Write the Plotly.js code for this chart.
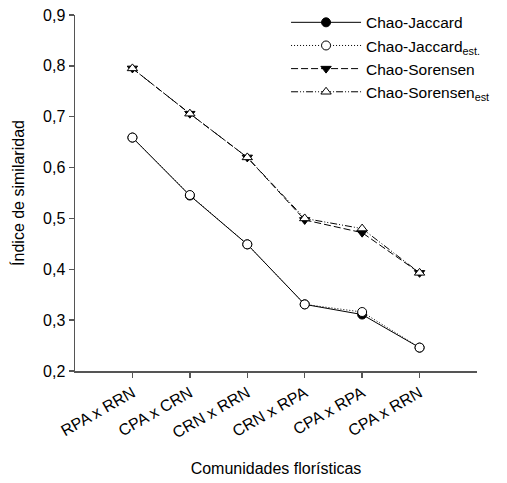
<!DOCTYPE html>
<html>
<head>
<meta charset="utf-8">
<script src="https://cdn.plot.ly/plotly-3.0.1.min.js"></script>
<style>html,body{margin:0;padding:0;background:#fff;}#chart{width:507px;height:483px;}</style>
</head>
<body>
<div id="chart"></div>
<script>
const categories = ["RPA x RRN", "CPA x CRN", "CRN x RRN", "CRN x RPA", "CPA x RPA", "CPA x RRN"];
const chaoJaccard = [0.659, 0.545, 0.449, 0.331, 0.311, 0.246];
const chaoJaccardEst = [0.659, 0.546, 0.449, 0.331, 0.316, 0.246];
const chaoSorensen = [0.795, 0.706, 0.620, 0.497, 0.472, 0.393];
const chaoSorensenEst = [0.795, 0.706, 0.620, 0.500, 0.480, 0.393];
const yTicks = [0.2, 0.3, 0.4, 0.5, 0.6, 0.7, 0.8, 0.9];
const yTickText = ["0,2", "0,3", "0,4", "0,5", "0,6", "0,7", "0,8", "0,9"];

const xIdx = categories.map((c, i) => i);
const fam = "Arial, 'Liberation Sans', sans-serif";
const font = {family: fam, size: 16, color: "#000"};

const traces = [
  {x: xIdx, y: chaoJaccard, name: "Chao-Jaccard", mode: "lines+markers",
   line: {color: "#000", width: 1, dash: "solid"},
   marker: {symbol: "circle", size: 9, color: "#000", line: {color: "#000", width: 1}}},
  {x: xIdx, y: chaoJaccardEst, name: "Chao-Jaccard<sub>est.</sub>", mode: "lines+markers",
   line: {color: "#000", width: 1, dash: "1px,2px"},
   marker: {symbol: "circle", size: 9, color: "#fff", line: {color: "#000", width: 1}}},
  {x: xIdx, y: chaoSorensen, name: "Chao-Sorensen", mode: "lines+markers",
   line: {color: "#000", width: 1, dash: "7px,3px"},
   marker: {symbol: "triangle-down", size: 9, color: "#000", line: {color: "#000", width: 1}}},
  {x: xIdx, y: chaoSorensenEst, name: "Chao-Sorensen<sub>est</sub>", mode: "lines+markers",
   line: {color: "#000", width: 1, dash: "7px,2px,1px,2px,1px,2px"},
   marker: {symbol: "triangle-up", size: 9, color: "#fff", line: {color: "#000", width: 1}}}
];

const layout = {
  width: 507, height: 483,
  margin: {l: 75, r: 30, t: 15, b: 112, autoexpand: false},
  paper_bgcolor: "#fff", plot_bgcolor: "#fff",
  font: font,
  showlegend: true,
  legend: {x: 0.525, y: 1.026, xanchor: "left", yanchor: "top", bgcolor: "rgba(0,0,0,0)",
           font: {family: fam, size: 15.5, color: "#000"}, itemwidth: 70, tracegroupgap: 0},
  xaxis: {
    range: [-1, 6], tickmode: "array", tickvals: xIdx, ticktext: categories,
    tickangle: -30, showgrid: false, zeroline: false,
    showline: true, linecolor: "#555", linewidth: 1.5,
    ticks: "outside", ticklen: 5, tickcolor: "#555", tickwidth: 1.5,
    tickfont: {family: fam, size: 16, color: "#000"},
    title: {text: "Comunidades florísticas", font: {family: fam, size: 16, color: "#000"}, standoff: 22}
  },
  yaxis: {
    range: [0.2, 0.9], tickmode: "array", tickvals: yTicks, ticktext: yTickText,
    showgrid: false, zeroline: false,
    showline: true, linecolor: "#555", linewidth: 1.5,
    ticks: "outside", ticklen: 5, tickcolor: "#555", tickwidth: 1.5,
    tickfont: {family: fam, size: 16, color: "#000"},
    title: {text: "Índice de similaridad", font: {family: fam, size: 16, color: "#000"}, standoff: 14}
  }
};

Plotly.newPlot("chart", traces, layout, {displayModeBar: false, staticPlot: true});
</script>
</body>
</html>
